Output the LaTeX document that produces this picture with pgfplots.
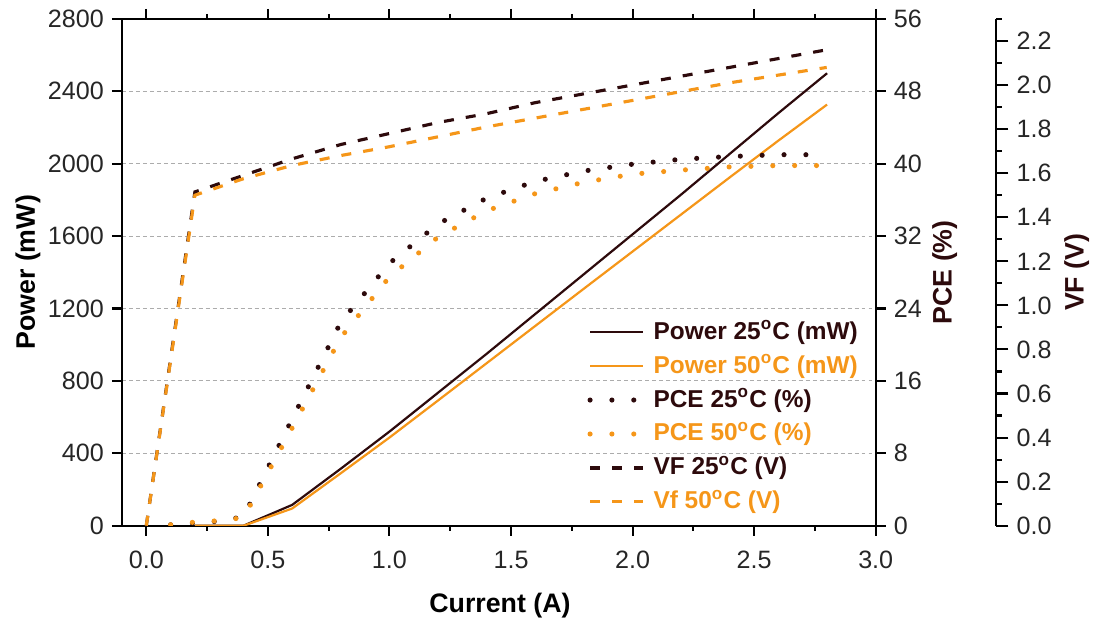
\documentclass[border=0pt]{standalone}
\usepackage{pgfplots}
\pgfplotsset{compat=1.18}
\usepackage{pgfplotstable}
\usepackage{fontspec}
\setmainfont{Liberation Sans}

\definecolor{dk}{RGB}{45,10,12}
\definecolor{og}{RGB}{245,150,25}
\definecolor{tk}{RGB}{38,38,38}

% current (A) vs optical power (mW)
\pgfplotstableread{
I    P25   P50
0.2  0     0
0.4  0     0
0.6  115   95
0.8  315   290
1.0  520   487
1.2  735   692
1.4  950   898
1.6  1170  1104
1.8  1390  1310
2.0  1610  1515
2.2  1830  1720
2.4  2055  1925
2.6  2280  2128
2.8  2500  2327
}\powertab

% power conversion efficiency (%)
\pgfplotstableread{
I    E25    E50
0.1  0.1    0.1
0.2  0.3    0.4
0.3  0.5    0.55
0.4  1.0    0.9
0.6  11.8   10.8
0.8  22.5   20.8
1.0  29.0   27.5
1.2  33.35  31.9
1.4  36.2   34.8
1.6  38.05  36.7
1.8  39.2   37.95
2.0  39.95  38.85
2.2  40.5   39.3
2.4  40.8   39.65
2.6  41.0   39.8
2.8  41.0   39.8
}\pcetab

% forward voltage (V)
\pgfplotstableread{
I    V25    V50
0.0  0      0
0.2  1.515  1.50
0.4  1.59   1.575
0.6  1.665  1.635
0.8  1.73   1.68
1.0  1.78   1.72
1.2  1.83   1.765
1.4  1.87   1.81
1.6  1.92   1.85
1.8  1.96   1.89
2.0  2.00   1.93
2.2  2.04   1.97
2.4  2.08   2.01
2.6  2.12   2.045
2.8  2.16   2.08
}\vftab

\pgfplotsset{
  p25/.style={dk, line width=0.95pt},
  p50/.style={og, line width=0.95pt},
  e25/.style={dk, line width=2.2pt, line cap=round, dash pattern=on 0pt off 9.4pt},
  e50/.style={og, line width=2.2pt, line cap=round, dash pattern=on 0pt off 9.4pt},
  v25/.style={dk, line width=1.35pt, dash pattern=on 4.3pt off 5.2pt},
  v50/.style={og, line width=1.35pt, dash pattern=on 4.3pt off 5.2pt},
  base/.style={
    scale only axis, height=217.9pt,
    at={(0,0)}, anchor=south west,
    xmin=-0.1,
    tick align=outside,
    major tick length=4.3pt, minor tick length=2.2pt,
    axis line style={line width=0.9pt, black},
    tick style={line width=0.9pt, black},
    tick label style={font=\fontsize{10.8}{13}\selectfont, color=tk},
    /pgf/number format/assume math mode=true,
    label style={font=\fontsize{11.5}{14}\selectfont\bfseries},
  },
}

\begin{document}
\begin{tikzpicture}
% power, left axis
\begin{axis}[base,
  width=324.1pt, xmax=3.0,
  ymin=0, ymax=2800,
  xtick={0,0.5,1,1.5,2,2.5,3},
  minor x tick num=1,
  ytick={0,400,800,1200,1600,2000,2400,2800},
  ytick pos=left,
  xticklabel style={yshift=-3pt, /pgf/number format/fixed, /pgf/number format/precision=1, /pgf/number format/fixed zerofill},
  yticklabel style={/pgf/number format/set thousands separator={}},
  scaled y ticks=false,
  ymajorgrids,
  grid style={gray!65, line width=0.5pt, dash pattern=on 1.7pt off 1.3pt},
  xlabel={Current (A)},
  xlabel style={at={([yshift=-34.3pt]rel axis cs:0.5015,0)}, anchor=center},
  ylabel={Power (mW)},
  ylabel style={at={([xshift=-40.4pt]rel axis cs:0,0.5)}, anchor=center},
  legend cell align=left,
  legend image code/.code={\draw[#1] (0pt,0pt) -- (22.8pt,0pt);},
  legend style={draw=none, fill=none, at={(0.617,0.4164)}, anchor=north west,
    inner sep=0pt, row sep=0pt, column sep=0pt,
    font=\fontsize{10.5}{12}\selectfont\bfseries,
    nodes={inner xsep=3.4pt, inner ysep=0pt, text height=10.3pt, text depth=4.3pt}},
]
\addplot[p25] table[x=I, y=P25] {\powertab};
\addplot[p50] table[x=I, y=P50] {\powertab};
\addlegendimage{e25}
\addlegendimage{e50}
\addlegendimage{v25}
\addlegendimage{v50}
\legend{
  \textcolor{dk}{Power 25\textsuperscript{o}C (mW)},
  \textcolor{og}{Power 50\textsuperscript{o}C (mW)},
  \textcolor{dk}{PCE 25\textsuperscript{o}C (\%)},
  \textcolor{og}{PCE 50\textsuperscript{o}C (\%)},
  \textcolor{dk}{VF 25\textsuperscript{o}C (V)},
  \textcolor{og}{Vf 50\textsuperscript{o}C (V)}}
\end{axis}

% PCE, right axis
\begin{axis}[base,
  width=324.1pt, xmax=3.0,
  axis y line*=right, axis x line=none,
  ymin=0, ymax=56,
  ytick={0,8,16,24,32,40,48,56},
  ylabel={PCE (\%)},
  ylabel style={at={([xshift=29.7pt]rel axis cs:1,0.5)}, anchor=center, color=dk},
]
\addplot[e25] table[x=I, y=E25] {\pcetab};
\addplot[e50] table[x=I, y=E50] {\pcetab};
\end{axis}

% VF, offset right axis (wider box, same current scale)
\begin{axis}[base,
  width=375.7pt, xmax=3.4955,
  axis y line*=right, axis x line=none,
  ymin=0, ymax=2.3,
  ytick={0,0.2,0.4,0.6,0.8,1.0,1.2,1.4,1.6,1.8,2.0,2.2},
  minor ytick={0.1,0.3,0.5,0.7,0.9,1.1,1.3,1.5,1.7,1.9,2.1,2.3},
  major tick length=5.46pt, minor tick length=2.6pt,
  yticklabel style={/pgf/number format/fixed, /pgf/number format/precision=1, /pgf/number format/fixed zerofill},
  ylabel={VF (V)},
  ylabel style={at={([xshift=34.8pt]rel axis cs:1,0.5)}, anchor=center, color=dk},
]
\addplot[v25] table[x=I, y=V25] {\vftab};
\addplot[v50] table[x=I, y=V50] {\vftab};
\end{axis}

\pgfresetboundingbox
\path (-52.46pt,-41.84pt) rectangle (419.25pt,226.05pt);
\end{tikzpicture}
\end{document}
